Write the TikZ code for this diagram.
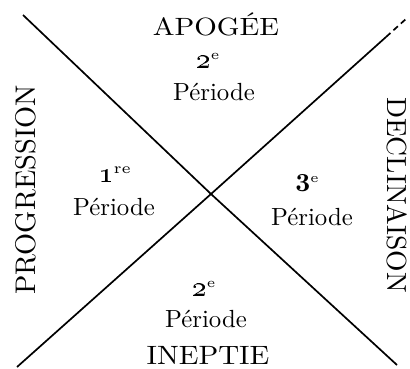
\documentclass[tikz,border=0pt]{standalone}
\usepackage{graphicx}
% text set at 10pt and enlarged, for a heavier print-like stroke
\newcommand{\bigtxt}[3]{\scalebox{#1}[#2]{\fontsize{10}{12}\selectfont #3}}
\newcommand{\rankmark}[5]{\scalebox{#1}{\fontsize{10}{12}\selectfont\bfseries #2\raisebox{#5}{\fontsize{#4}{7}\selectfont\mdseries #3}}}
\begin{document}
\begin{tikzpicture}[x=1pt,y=-1pt,
  axisline/.style={line width=1.7pt,black},
  txt/.style={inner sep=0pt,anchor=base}]
\useasboundingbox (0,0) rectangle (410,368);
% line ends
\coordinate (A) at (23,15);
\coordinate (X) at (211,194);
\coordinate (B) at (397,365);
\coordinate (C) at (17,367);
\coordinate (S) at (386,37);
\coordinate (D) at (407,18);
\draw[axisline] (A) -- (X) -- (B);
\draw[axisline] (C) -- (X) -- (S);
\draw[axisline,dash pattern=on 6pt off 4pt] (S) -- (D);
% texts
\node[txt] (apogee) at (216,35) {\bigtxt{2.9}{2.5}{APOGÉE}};
\node[txt] (r2top) at (208,68) {\rankmark{2.9}{\oldstylenums{2}}{e}{4.8}{2.9pt}};
\node[txt] (p2top) at (214,100) {\bigtxt{2.48}{2.48}{Période}};
\node[txt] (r1) at (115,182) {\rankmark{2.9}{\oldstylenums{1}}{re}{5.2}{2.9pt}};
\node[txt] (p1) at (114,215) {\bigtxt{2.48}{2.48}{Période}};
\node[txt] (r3) at (307,191) {\rankmark{2.6}{3}{e}{5.2}{3.4pt}};
\node[txt] (p3) at (312,225) {\bigtxt{2.48}{2.48}{Période}};
\node[txt] (r2bot) at (204,296) {\rankmark{2.9}{\oldstylenums{2}}{e}{4.8}{2.9pt}};
\node[txt] (p2bot) at (206,327) {\bigtxt{2.48}{2.48}{Période}};
\node[txt] (ineptie) at (208,364) {\bigtxt{2.9}{2.65}{INEPTIE}};
\node[txt,rotate=90] (progression) at (35,190) {\bigtxt{2.84}{2.84}{PROGRESSION}};
\node[txt,rotate=-90] (declinaison) at (387,195) {\bigtxt{2.76}{2.76}{DECLINAISON}};
\end{tikzpicture}
\end{document}
